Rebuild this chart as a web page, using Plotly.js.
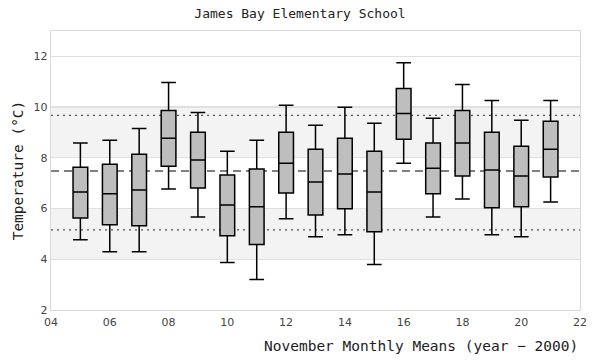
<!DOCTYPE html>
<html>
<head>
<meta charset="utf-8">
<script src="https://cdn.plot.ly/plotly-3.0.1.min.js"></script>
<style>html,body{margin:0;padding:0;background:#fff}#chart{width:600px;height:360px}</style>
</head>
<body>
<div id="chart"></div>
<script>
// Data (year - 2000)
const years   = [5, 6, 7, 8, 9, 10, 11, 12, 13, 14, 15, 16, 17, 18, 19, 20, 21];
const lower   = [4.77, 4.30, 4.30, 6.77, 5.67, 3.87, 3.20, 5.60, 4.89, 4.97, 3.79, 7.79, 5.67, 6.38, 4.97, 4.89, 6.26];
const q1      = [5.63, 5.36, 5.32, 7.67, 6.81, 4.93, 4.58, 6.61, 5.75, 5.99, 5.09, 8.73, 6.58, 7.28, 6.03, 6.07, 7.24];
const median  = [6.65, 6.58, 6.73, 8.77, 7.91, 6.14, 6.07, 7.79, 7.05, 7.36, 6.65, 9.75, 7.59, 8.58, 7.52, 7.28, 8.34];
const q3      = [7.63, 7.75, 8.14, 9.87, 9.01, 7.32, 7.56, 9.01, 8.34, 8.77, 8.26, 10.73, 8.58, 9.87, 9.01, 8.46, 9.44];
const upper   = [8.58, 8.69, 9.16, 10.97, 9.79, 8.26, 8.69, 10.07, 9.28, 9.99, 9.36, 11.75, 9.56, 10.89, 10.26, 9.48, 10.26];

const meanLine = [7.48];
const sdLines  = [9.67, 5.16];
const bandLow  = [4, 8];
const bandHigh = [6, 10];

const xTickVals = [4, 6, 8, 10, 12, 14, 16, 18, 20, 22];
const xTickText = ['04', '06', '08', '10', '12', '14', '16', '18', '20', '22'];

const shapes = [];
bandLow.forEach((b, i) => shapes.push({
  type: 'rect', xref: 'paper', yref: 'y', x0: 0, x1: 1, y0: b, y1: bandHigh[i],
  fillcolor: '#f3f3f3', line: {width: 0}, layer: 'below'
}));
meanLine.forEach(v => shapes.push({
  type: 'line', xref: 'paper', yref: 'y', x0: 0, x1: 1, y0: v, y1: v,
  line: {color: '#555', width: 1.3, dash: '8px,5px'}, layer: 'below'
}));
sdLines.forEach(v => shapes.push({
  type: 'line', xref: 'paper', yref: 'y', x0: 0, x1: 1, y0: v, y1: v,
  line: {color: '#555', width: 1.3, dash: '2px,4px'}, layer: 'below'
}));

const trace = {
  type: 'box',
  x: years,
  q1: q1, median: median, q3: q3, lowerfence: lower, upperfence: upper,
  width: 0.5,
  whiskerwidth: 1,
  fillcolor: '#bebebe',
  line: {color: '#000', width: 1.5},
  boxpoints: false,
  hoverinfo: 'skip',
  showlegend: false
};

const layout = {
  width: 600, height: 360,
  margin: {l: 51, r: 20, t: 31, b: 50},
  paper_bgcolor: '#fff', plot_bgcolor: '#fff',
  title: {text: 'James Bay Elementary School', x: 0.5, xanchor: 'center', y: 0.975, yanchor: 'top',
          font: {family: 'DejaVu Sans Mono, monospace', size: 13, color: '#222'}},
  xaxis: {
    range: [4, 22], tickvals: xTickVals, ticktext: xTickText,
    showgrid: false, zeroline: false, showline: true, mirror: true,
    linecolor: '#d9d9d9', linewidth: 1.2, ticks: '', ticklabelstandoff: 2,
    tickfont: {family: 'DejaVu Sans, sans-serif', size: 11, color: '#444'}
  },
  yaxis: {
    range: [2, 13], tickvals: [2, 4, 6, 8, 10, 12],
    showgrid: true, gridcolor: '#e0e0e0', gridwidth: 1.2, zeroline: false,
    showline: true, mirror: true, linecolor: '#d9d9d9', linewidth: 1.2, ticks: '',
    tickfont: {family: 'DejaVu Sans, sans-serif', size: 11, color: '#444'},
    title: {text: 'Temperature (°C)', standoff: 6,
            font: {family: 'DejaVu Sans Mono, monospace', size: 14.5, color: '#222'}}
  },
  annotations: [{
    text: 'November Monthly Means (year − 2000)', xref: 'paper', yref: 'paper',
    x: 1, xanchor: 'right', y: -0.093, yanchor: 'top', showarrow: false,
    font: {family: 'DejaVu Sans Mono, monospace', size: 14.5, color: '#222'}
  }],
  shapes: shapes
};

Plotly.newPlot('chart', [trace], layout, {displayModeBar: false, staticPlot: true});
</script>
</body>
</html>
